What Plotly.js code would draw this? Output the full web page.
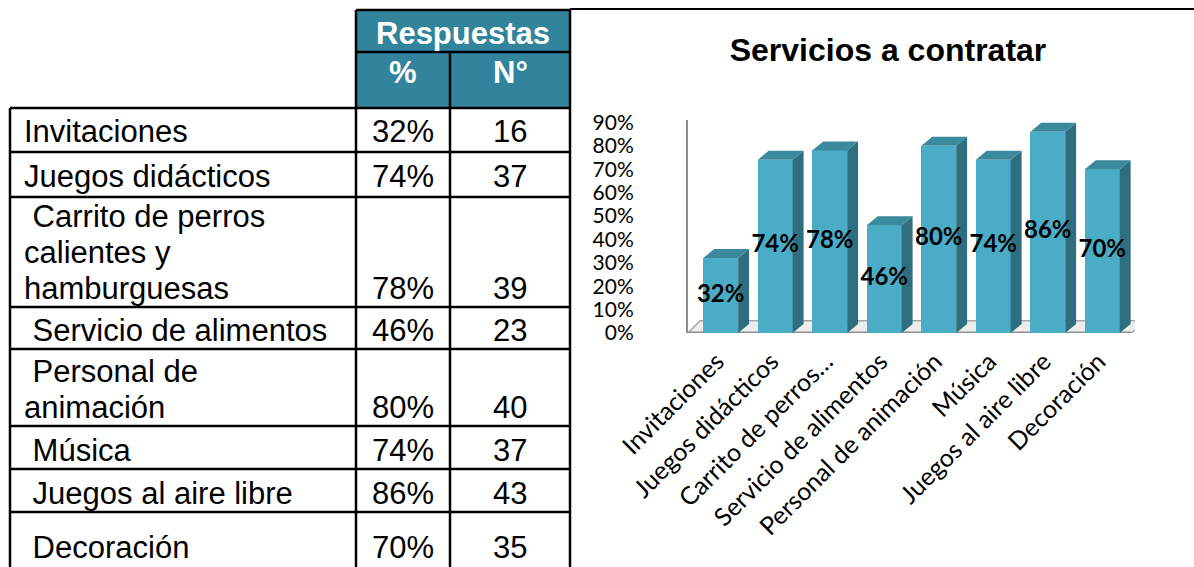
<!DOCTYPE html>
<html><head><meta charset="utf-8">
<script src="https://cdn.plot.ly/plotly-3.0.1.min.js"></script>
<style>html,body{margin:0;padding:0;background:#fff;overflow:hidden}#chart{width:1194px;height:567px}</style>
</head><body><div id="chart"></div>
<script>
// ---------- data ----------
const chartTitle = 'Servicios a contratar';
const chartLabels = ['Invitaciones', 'Juegos didácticos', 'Carrito de perros…', 'Servicio de alimentos', 'Personal de animación', 'Música', 'Juegos al aire libre', 'Decoración'];
const tableLabels = ['Invitaciones', 'Juegos didácticos', ' Carrito de perros\ncalientes y\nhamburguesas', ' Servicio de alimentos', ' Personal de\nanimación', ' Música', ' Juegos al aire libre', ' Decoración'];
const percents = [0.32, 0.74, 0.78, 0.46, 0.80, 0.74, 0.86, 0.70];
const counts = [16, 37, 39, 23, 40, 37, 43, 35];
const headerGroup = 'Respuestas';
const headerCols = ['%', 'N°'];
const yTicks = [0, 0.1, 0.2, 0.3, 0.4, 0.5, 0.6, 0.7, 0.8, 0.9];

// ---------- layout geometry ----------
const W = 1194, H = 567;
const M = {l: 688, r: 59, t: 120, b: 234};
const PW = W - M.l - M.r, PH = H - M.t - M.b;
const xp = px => (px - M.l) / PW;
const yp = py => (H - M.b - py) / PH;

const colFront = '#4aacc6', colSide = '#2f6e7e', colTop = '#3a899d', teal = '#31849b';
const barW = 0.64, dx = 0.2, dy = 0.0385;
const idx = percents.map((_, i) => i);

// 3D faces
const sideX = [], sideY = [], topX = [], topY = [];
idx.forEach(i => {
  const v = percents[i], r = i + barW / 2, l = i - barW / 2;
  sideX.push(r, r + dx, r + dx, r, r, null);
  sideY.push(0, dy, v + dy, v, 0, null);
  topX.push(l, r, r + dx, l + dx, l, null);
  topY.push(v, v, v + dy, v + dy, v, null);
});

const traces = [
  {type: 'bar', x: idx, y: percents, width: barW, marker: {color: colFront, line: {width: 0}}, hoverinfo: 'skip', showlegend: false},
  {type: 'scatter', mode: 'lines', x: sideX, y: sideY, fill: 'toself', fillcolor: colSide, line: {width: 0, color: colSide}, hoverinfo: 'skip', showlegend: false, cliponaxis: false},
  {type: 'scatter', mode: 'lines', x: topX, y: topY, fill: 'toself', fillcolor: colTop, line: {width: 0, color: colTop}, hoverinfo: 'skip', showlegend: false, cliponaxis: false},
  {type: 'scatter', mode: 'text', x: idx, y: percents.map(v => v / 2), text: percents.map(v => '<b>' + Math.round(v * 100) + '%</b>'),
   textposition: 'middle center', textfont: {family: 'Lato, Open Sans, sans-serif', size: 24, color: '#000'}, hoverinfo: 'skip', showlegend: false, cliponaxis: false}
];

// ---------- table ----------
const shapes = [];
const annotations = [];
const line = (x0, y0, x1, y1, w) => shapes.push({type: 'line', xref: 'paper', yref: 'paper', x0: xp(x0), y0: yp(y0), x1: xp(x1), y1: yp(y1), line: {color: '#000', width: w || 2.5}, layer: 'above'});

// header fill
shapes.push({type: 'rect', xref: 'paper', yref: 'paper', x0: xp(356), x1: xp(570), y0: yp(108), y1: yp(10), fillcolor: teal, line: {width: 0}, layer: 'below'});
// floor (in data coords)
shapes.push({type: 'path', xref: 'x', yref: 'y', layer: 'below',
  path: 'M -0.6,0 L 7.53,0 L 7.83,0.052 L -0.38,0.052 Z', fillcolor: '#ededed', line: {color: '#a6a6a6', width: 1.5}});
shapes.push({type: 'line', xref: 'x', yref: 'y', layer: 'below', x0: -0.6, x1: 7.53, y0: 0, y1: 0, line: {color: '#8f8f8f', width: 3}});

const rowLines = [108, 152, 197, 307, 349, 426, 469, 512, 566];
const colL = 10, colA = 356, colB = 450, colC = 570;
line(colA, 10, colC, 10);
line(colA, 52, colC, 52);
line(570, 9, 1194, 9, 2);
line(colA, 10, colA, 567);
line(colB, 52, colB, 567);
line(colC, 10, colC, 567);
line(colL, 108, colL, 567);
rowLines.slice(0, 8).forEach(y => line(colL, y, colC, y));

const tFont = {family: 'Liberation Sans, Arial, sans-serif', size: 31, color: '#000'};
const hFont = {family: 'Liberation Sans, Arial, sans-serif', size: 31, color: '#fff', weight: 'bold'};
const ann = (x, y, text, font, xanchor) => annotations.push({xref: 'paper', yref: 'paper', x: xp(x), y: yp(y), text, font, showarrow: false, xanchor: xanchor || 'center', yanchor: 'middle', borderpad: 0});

ann(463, 33, '<b>' + headerGroup + '</b>', hFont);
ann(403, 73, '<b>' + headerCols[0] + '</b>', hFont);
ann(510, 73, '<b>' + headerCols[1] + '</b>', hFont);

tableLabels.forEach((lab, i) => {
  const bottom = rowLines[i + 1];
  const baseY = bottom - (i < 2 ? 21 : 19);
  const parts = lab.split('\n');
  parts.forEach((p, k) => {
    const y = baseY - (parts.length - 1 - k) * 36;
    ann(23, y, p.replace(/^ /, '\u00a0'), tFont, 'left');
  });
  ann(403, baseY, Math.round(percents[i] * 100) + '%', tFont);
  ann(510, baseY, String(counts[i]), tFont);
});

const layout = {
  width: W, height: H, margin: M, paper_bgcolor: '#fff', plot_bgcolor: 'rgba(0,0,0,0)',
  showlegend: false, bargap: 0,
  title: {text: '<b>' + chartTitle + '</b>', xref: 'container', yref: 'container', x: 888 / W, y: 1 - 50 / H, xanchor: 'center', yanchor: 'middle',
          font: {family: 'Liberation Sans, Arial, sans-serif', size: 32, color: '#000'}},
  xaxis: {range: [-0.6, 7.6], tickvals: idx, ticktext: chartLabels, tickangle: -45, showgrid: false, zeroline: false, showline: false, ticks: '',
          ticklabelstandoff: 8, ticklabelshift: -4,
          tickfont: {family: 'Lato, Open Sans, sans-serif', size: 25, color: '#000'}, fixedrange: true},
  yaxis: {range: [0, 0.91], tickvals: yTicks, tickformat: '.0%', showgrid: false, zeroline: false, showline: true, linecolor: '#8c8c8c', linewidth: 2,
          ticks: '', ticklabelstandoff: 48, tickfont: {family: 'Lato, Open Sans, sans-serif', size: 21, color: '#000'}, fixedrange: true},
  shapes, annotations
};
Plotly.newPlot('chart', traces, layout, {staticPlot: true, displayModeBar: false});
</script></body></html>
